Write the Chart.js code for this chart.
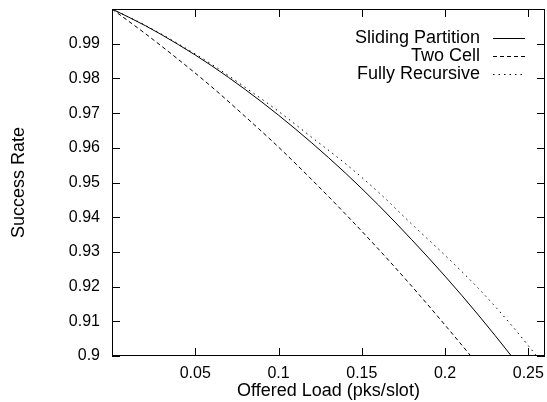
<!DOCTYPE html>
<html>
<head>
<meta charset="utf-8">
<script src="https://cdn.jsdelivr.net/npm/chart.js@4"></script>
<style>
  html, body { margin: 0; padding: 0; background: #fff; }
  #wrap { width: 547px; height: 402px; }
</style>
</head>
<body>
<div id="wrap"><canvas id="chart" width="547" height="402"></canvas></div>
<script>
// offered load (pks/slot)
const loads = [0, 0.02, 0.04, 0.06, 0.08, 0.10, 0.12, 0.14, 0.16, 0.18, 0.20, 0.22, 0.24, 0.26];
const slidingPartition = [1, 0.9952, 0.9897, 0.9836, 0.9768, 0.9694, 0.9614, 0.9528, 0.9435, 0.9335, 0.9230, 0.9118, 0.8999, 0.8875];
const twoCell = [1, 0.9929, 0.9854, 0.9775, 0.9690, 0.9602, 0.9508, 0.9410, 0.9308, 0.9201, 0.9089, 0.8973, 0.8850, 0.8720];
const fullyRecursive = [1, 0.9953, 0.9899, 0.9840, 0.9774, 0.9705, 0.9630, 0.9555, 0.9472, 0.9380, 0.9290, 0.9195, 0.9088, 0.8970];
const xTicks = [0.05, 0.1, 0.15, 0.2, 0.25];
const yTicks = [0.9, 0.91, 0.92, 0.93, 0.94, 0.95, 0.96, 0.97, 0.98, 0.99];

const FONT = 'Liberation Sans, Arial, Helvetica, sans-serif';

function toPoints(ys) {
    return loads.map((x, i) => ({ x: x, y: ys[i] }));
}

const seriesInfo = [
    { label: 'Sliding Partition', data: slidingPartition, dash: [] },
    { label: 'Two Cell', data: twoCell, dash: [4, 3] },
    { label: 'Fully Recursive', data: fullyRecursive, dash: [1.5, 4] }
];

// gnuplot-like frame, inward ticks on all sides and the key
const framePlugin = {
    id: 'frame',
    afterDraw(chart) {
        const ctx = chart.ctx;
        const a = chart.chartArea;
        const xs = chart.scales.x;
        const ys = chart.scales.y;
        const tl = 8;
        ctx.save();
        ctx.strokeStyle = '#000';
        ctx.lineWidth = 1;
        ctx.setLineDash([]);
        ctx.strokeRect(a.left + 0.5, a.top + 0.5, a.right - a.left - 1, a.bottom - a.top - 1);
        ctx.beginPath();
        xTicks.forEach(v => {
            const px = Math.round(xs.getPixelForValue(v)) + 0.5;
            ctx.moveTo(px, a.bottom); ctx.lineTo(px, a.bottom - tl);
            ctx.moveTo(px, a.top); ctx.lineTo(px, a.top + tl);
        });
        yTicks.forEach(v => {
            const py = Math.round(ys.getPixelForValue(v)) + 0.5;
            ctx.moveTo(a.left, py); ctx.lineTo(a.left + tl, py);
            ctx.moveTo(a.right, py); ctx.lineTo(a.right - tl, py);
        });
        ctx.stroke();

        // key
        ctx.font = '18px ' + FONT;
        ctx.fillStyle = '#000';
        ctx.textAlign = 'right';
        ctx.textBaseline = 'middle';
        const textRight = 480;
        const lineL = 493, lineR = 525;
        seriesInfo.forEach((s, i) => {
            const y = 38 + i * 18;
            ctx.fillText(s.label, textRight, y);
            ctx.beginPath();
            ctx.setLineDash(s.dash);
            ctx.moveTo(lineL, Math.round(y) + 0.5);
            ctx.lineTo(lineR, Math.round(y) + 0.5);
            ctx.stroke();
        });
        ctx.restore();
    }
};

function noPadding(scale) {
    scale.paddingLeft = 0;
    scale.paddingRight = 0;
    scale.paddingTop = 0;
    scale.paddingBottom = 0;
}

new Chart(document.getElementById('chart'), {
    type: 'line',
    data: {
        datasets: seriesInfo.map(s => ({
            label: s.label,
            data: toPoints(s.data),
            borderColor: '#000',
            borderWidth: 1,
            borderDash: s.dash,
            pointRadius: 0,
            cubicInterpolationMode: 'monotone',
            fill: false
        }))
    },
    options: {
        responsive: false,
        animation: false,
        layout: { padding: { top: 9, right: 2, left: 0, bottom: 0 } },
        plugins: {
            legend: { display: false },
            tooltip: { enabled: false }
        },
        scales: {
            x: {
                type: 'linear',
                min: 0,
                max: 0.26,
                grid: { display: false, drawTicks: false },
                border: { display: false },
                afterBuildTicks: scale => { scale.ticks = xTicks.map(v => ({ value: v })); },
                afterFit: scale => { scale.height = 46; noPadding(scale); },
                ticks: {
                    padding: 8,
                    color: '#000',
                    font: { family: FONT, size: 16 },
                    maxRotation: 0,
                    callback: v => String(Number(v.toFixed(2)))
                },
                title: {
                    display: true,
                    text: 'Offered Load (pks/slot)',
                    color: '#000',
                    font: { family: FONT, size: 18 },
                    padding: { top: 0, bottom: 0 }
                }
            },
            y: {
                type: 'linear',
                min: 0.9,
                max: 1.0,
                grid: { display: false, drawTicks: false },
                border: { display: false },
                afterBuildTicks: scale => { scale.ticks = yTicks.map(v => ({ value: v })); },
                afterFit: scale => { scale.width = 112; noPadding(scale); },
                ticks: {
                    padding: 12,
                    color: '#000',
                    font: { family: FONT, size: 16 },
                    callback: v => String(Number(v.toFixed(2)))
                },
                title: {
                    display: true,
                    text: 'Success Rate',
                    color: '#000',
                    font: { family: FONT, size: 18 },
                    padding: { top: 8, bottom: 0 }
                }
            }
        }
    },
    plugins: [framePlugin]
});
</script>
</body>
</html>
